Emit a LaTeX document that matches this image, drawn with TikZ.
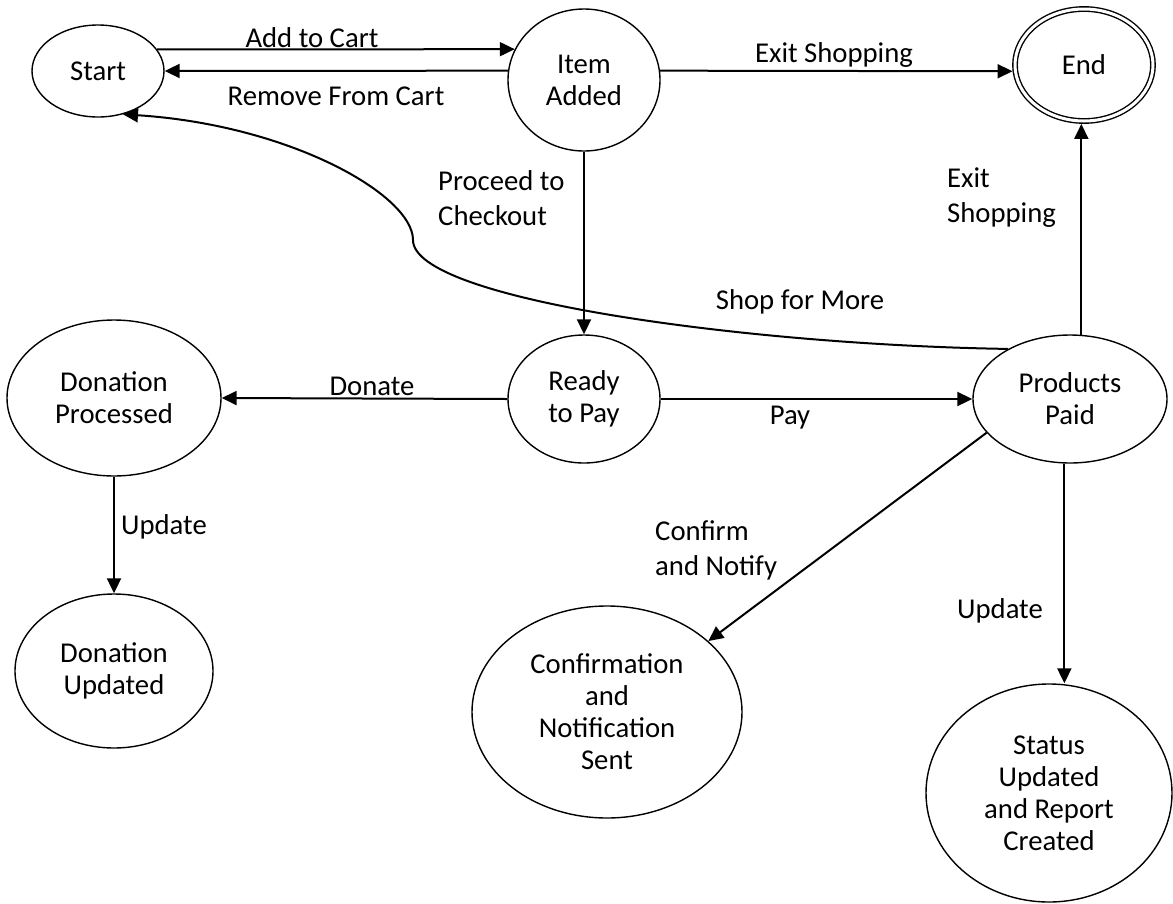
\documentclass[tikz,border=0pt]{standalone}
\usepackage{fontspec}
\setmainfont{Carlito}
\usetikzlibrary{arrows.meta,shapes.geometric}

\tikzset{
  st/.style 2 args={ellipse,draw,line width=1.4pt,inner sep=0pt,align=center,
    minimum width=#1,minimum height=#2},
  arr/.style={-{Triangle[length=15pt,width=14pt]},line width=2pt},
  lbl/.style={inner sep=0pt,align=left,font=\fontsize{28.7}{35}\selectfont}
}

\begin{document}
\begin{tikzpicture}[x=1pt,y=-1pt,font=\fontsize{28.7}{32}\selectfont]
  \useasboundingbox (0,0) rectangle (1173,903);
  % states
  \node[st={132pt}{92pt}] (start) at (98,71) {Start};
  \node[st={152pt}{142pt}] (item) at (584,80) {Item\\Added};
  \node[st={138pt}{112pt},double,double distance=3pt,outer sep=2.9pt] (end) at (1084,65) {End};
  \node[st={152pt}{128pt}] (ready) at (584,399) {Ready\\to Pay};
  \node[st={214pt}{156pt}] (donp) at (114,398) {Donation\\Processed};
  \node[st={194pt}{128pt}] (pp) at (1070,399) {Products\\Paid};
  \node[st={198pt}{154pt}] (donu) at (114,671) {Donation\\Updated};
  \node[st={270pt}{212pt}] (conf) at (607,712) {Confirmation\\and\\Notification\\Sent};
  \node[st={246pt}{218pt}] (stat) at (1049,793) {Status\\Updated\\and Report\\Created};

  % transitions
  \foreach \a/\b in {start.20/item.156, item.173/start.east, item.7/end.185,
      item.south/ready.north, ready.west/donp.east, ready.east/pp.west,
      donp.south/donu.north, pp.202/conf.35}
    \draw[arr] (\a) -- (\b);
  \draw[arr] (pp.80) -- (pp.80 |- end.south);
  \draw[arr] (pp.-95) -- (pp.-95 |- stat.north);
  \draw[arr] (pp.141) .. controls (750,345) and (413,300) .. (413,240)
    .. controls (413,195) and (290,125) .. (start.-60);

  % labels
  \node[lbl] (ladd) at (312,38) {Add to Cart};
  \node[lbl] (lrem) at (336,96) {Remove From Cart};
  \node[lbl] (lexit) at (834,55) {Exit Shopping};
  \node[lbl,anchor=west] (lproc) at (438,198) {Proceed to\\Checkout};
  \node[lbl,anchor=west] (lexit2) at (947,198) {Exit\\Shopping};
  \node[lbl] (lshop) at (800,302) {Shop for More};
  \node[lbl] (ldon) at (372,386) {Donate};
  \node[lbl] (lpay) at (790,418) {Pay};
  \node[lbl] (lupd) at (164,527) {Update};
  \node[lbl,anchor=west] (lconf) at (655,550) {Confirm\\and Notify};
  \node[lbl] (lupd2) at (1000,611) {Update};
\end{tikzpicture}
\end{document}
